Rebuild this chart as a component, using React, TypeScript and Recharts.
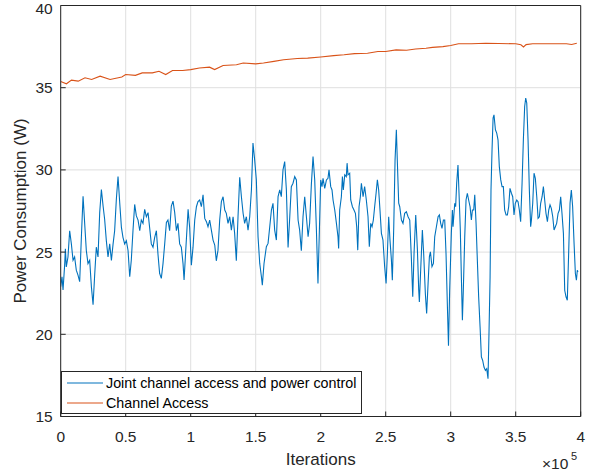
import { LineChart, Line, XAxis, YAxis, CartesianGrid, Legend } from "recharts"

// iterations are stored in thousands
const jointIter = [
  0, 1.0, 1.8, 3.1, 3.6, 4.3, 5.6, 6.9, 8.2, 9.5, 10.7, 12.0, 13.3, 14.6, 15.9, 17.2, 18.4, 19.7, 21.0, 22.3,
  23.6, 24.9, 26.2, 27.4, 28.7, 30.0, 31.3, 32.6, 33.8, 35.1, 36.4, 37.7, 39.0, 40.3, 41.5, 42.8, 44.1, 45.4, 46.7, 47.9,
  49.2, 50.5, 51.8, 53.1, 54.3, 55.6, 56.9, 58.2, 59.5, 60.8, 62.0, 63.3, 64.6, 65.9, 67.2, 68.4, 69.7, 71.0, 72.3, 73.6,
  74.8, 76.1, 77.4, 78.7, 80.0, 81.3, 82.5, 83.8, 85.1, 86.4, 87.7, 89.0, 90.2, 91.5, 92.8, 94.1, 94.9, 95.9, 97.2, 98.0,
  99.2, 100.5, 101.8, 103.1, 104.4, 105.6, 106.9, 108.2, 109.5, 110.8, 112.1, 113.3, 114.6, 115.9, 117.2, 118.5, 119.7, 121.0, 122.3, 123.6,
  124.9, 126.2, 127.4, 128.7, 130.0, 131.3, 132.6, 133.8, 135.1, 136.4, 137.7, 139.0, 140.3, 141.5, 142.8, 144.1, 145.4, 146.7, 147.9, 149.2,
  150.5, 151.8, 153.1, 154.4, 155.1, 156.4, 158.2, 159.5, 160.8, 162.1, 163.3, 164.6, 165.9, 167.2, 168.5, 169.7, 171.0, 172.3, 173.6, 174.9,
  176.2, 177.4, 178.7, 180.0, 181.3, 182.6, 183.8, 185.1, 186.4, 187.7, 189.0, 190.3, 191.5, 192.8, 194.1, 195.4, 196.7, 197.9, 199.2, 200.0,
  201.0, 201.8, 203.1, 204.4, 205.6, 206.4, 207.7, 208.7, 209.5, 210.8, 212.1, 213.3, 213.8, 214.6, 215.9, 216.7, 217.4, 218.5, 219.7, 220.3,
  221.0, 222.3, 223.1, 224.4, 225.6, 226.7, 227.7, 228.5, 229.5, 230.5, 231.3, 232.6, 233.8, 235.1, 236.4, 237.4, 238.5, 239.5, 240.5, 241.5,
  242.6, 243.6, 244.6, 245.6, 246.7, 247.9, 249.2, 250.3, 251.3, 252.3, 253.3, 254.4, 255.1, 256.2, 257.2, 258.2, 259.0, 260.0, 260.8, 262.1,
  263.3, 264.6, 265.9, 267.2, 268.5, 269.7, 270.8, 271.8, 273.1, 274.4, 275.4, 275.9, 276.9, 278.2, 279.2, 280.5, 281.5, 282.6, 283.6, 284.4,
  285.6, 286.7, 287.7, 289.0, 290.3, 291.3, 292.3, 293.3, 294.4, 295.4, 296.4, 297.4, 298.3, 299.2, 300.5, 301.3, 301.8, 303.1, 303.8, 304.6,
  305.6, 306.4, 307.4, 308.2, 309.0, 309.7, 310.8, 311.8, 312.8, 313.8, 314.9, 315.9, 316.7, 317.7, 318.5, 319.5, 320.5, 321.5, 322.6, 323.6,
  324.6, 325.6, 326.7, 327.7, 328.7, 329.5, 330.3, 331.0, 331.8, 332.6, 333.3, 334.4, 335.4, 336.4, 337.4, 338.5, 339.5, 340.5, 341.5, 342.6,
  343.6, 344.6, 345.6, 346.7, 347.7, 348.7, 349.7, 350.8, 351.8, 352.8, 353.8, 354.9, 355.9, 356.9, 357.7, 358.5, 359.5, 360.5, 361.5, 362.1,
  363.1, 364.1, 365.1, 366.2, 367.2, 368.2, 369.2, 370.3, 371.3, 372.3, 373.3, 374.4, 375.4, 376.4, 377.4, 378.5, 379.5, 380.5, 381.5, 382.6,
  383.6, 384.6, 385.6, 386.7, 387.7, 388.7, 389.7, 390.8, 391.8, 392.8, 393.8, 394.9, 395.9, 396.7, 397.4, 397.9,
]

const jointPower = [
  22.9, 23.5, 22.7, 24.3, 25.2, 24.1, 24.7, 26.3, 25.5, 24.5, 24.7, 23.9, 23.6, 23.2, 25.9, 28.4, 26.8, 25.1, 24.3, 24.5,
  22.9, 21.8, 23.7, 25.3, 24.7, 27.4, 28.8, 27.8, 27.0, 25.7, 24.7, 25.5, 24.5, 25.5, 26.3, 28.2, 29.6, 28.0, 26.5, 25.9,
  25.5, 25.7, 25.1, 23.5, 24.5, 26.3, 27.9, 27.2, 26.95, 26.3, 26.95, 26.75, 27.6, 27.15, 27.4, 26.5, 25.5, 25.3, 25.9, 26.3,
  24.9, 23.7, 23.4, 24.3, 25.5, 26.8, 26.95, 26.3, 27.8, 28.1, 27.4, 26.3, 26.75, 25.5, 25.3, 24.3, 23.3, 24.7, 26.5, 27.6,
  26.5, 24.2, 25.3, 26.95, 27.76, 28.07, 28.17, 27.76, 28.48, 27.05, 26.85, 26.54, 26.95, 26.34, 25.73, 25.43, 24.47, 25.12, 26.95, 28.07,
  28.37, 27.56, 27.36, 26.75, 27.15, 26.34, 27.15, 26.14, 24.47, 27.15, 29.55, 28.37, 27.36, 26.75, 27.15, 26.34, 27.15, 28.78, 31.63, 30.61,
  29.39, 25.93, 24.31, 23.5, 22.99, 24.31, 25.33, 25.53, 26.54, 27.56, 27.97, 26.34, 25.73, 28.37, 28.78, 28.37, 30.0, 30.51, 28.78, 25.28,
  27.15, 28.98, 29.19, 29.59, 29.39, 26.95, 26.34, 25.08, 27.15, 28.37, 27.15, 25.93, 26.75, 29.09, 30.81, 29.39, 26.34, 23.09, 26.95, 29.39,
  28.98, 29.49, 28.88, 29.39, 29.49, 30.0, 28.98, 28.78, 28.17, 27.56, 26.75, 25.93, 25.22, 27.56, 28.37, 29.59, 28.78, 29.7, 29.59, 30.41,
  29.7, 29.8, 28.17, 27.76, 27.56, 27.36, 26.54, 25.12, 27.76, 28.37, 29.19, 28.37, 28.98, 28.17, 27.15, 25.33, 26.75, 26.54, 26.95, 27.76,
  28.58, 29.39, 28.78, 27.56, 26.14, 25.73, 24.11, 23.09, 24.92, 27.15, 25.73, 24.51, 23.29, 26.54, 30.61, 32.44, 30.41, 27.97, 27.76, 26.95,
  26.75, 27.36, 27.46, 27.15, 26.95, 24.72, 22.28, 24.92, 27.26, 25.12, 22.68, 21.97, 23.9, 26.34, 24.92, 22.48, 21.26, 23.09, 24.72, 25.02,
  24.11, 24.31, 25.93, 26.54, 27.15, 27.26, 26.75, 26.44, 26.95, 26.95, 24.92, 21.87, 19.3, 22.68, 26.14, 27.56, 26.54, 27.97, 27.76, 29.19,
  30.3, 28.58, 26.34, 23.5, 20.85, 22.68, 25.93, 28.17, 28.58, 28.17, 27.76, 26.95, 27.56, 27.56, 28.48, 26.75, 24.51, 22.28, 20.45, 18.62,
  18.41, 18.01, 17.8, 17.91, 17.3, 20.24, 23.5, 28.78, 31.22, 33.15, 33.35, 32.44, 32.24, 31.83, 30.2, 29.39, 28.98, 28.98, 27.56, 27.26,
  27.26, 27.76, 28.88, 28.58, 28.37, 27.26, 27.97, 28.17, 28.07, 27.56, 26.85, 29.19, 31.83, 33.86, 34.37, 34.07, 31.83, 28.78, 26.54, 26.95,
  27.97, 29.8, 29.49, 28.37, 27.05, 27.15, 27.97, 28.37, 28.98, 28.17, 27.36, 26.85, 27.56, 27.87, 27.66, 27.15, 26.34, 26.54, 26.75, 27.36,
  27.56, 28.37, 27.36, 26.14, 22.68, 22.28, 22.07, 25.12, 27.97, 28.78, 27.76, 25.53, 23.7, 23.29, 23.9, 23.8,
]

const accessIter = [
  0, 4.4, 8.3, 13.5, 18.7, 23.8, 30.3, 38, 47, 50, 57.5, 62.7, 70.5, 75.6, 80.8, 86, 93.8, 100, 106.7, 114.5,
  118.4, 124.9, 135.2, 140.4, 150, 156, 164, 171.5, 182, 190, 200, 210, 218, 226, 236, 244, 250, 258, 266, 273,
  281, 286, 294, 300, 306, 316, 327, 337, 350, 354, 356, 358, 363, 376, 389, 393, 397,
]

const accessPower = [
  35.38, 35.24, 35.46, 35.4, 35.6, 35.5, 35.7, 35.5, 35.65, 35.8, 35.75, 35.9, 35.9, 36.0, 35.8, 36.05, 36.05, 36.1, 36.2, 36.25,
  36.1, 36.35, 36.4, 36.5, 36.45, 36.5, 36.6, 36.7, 36.78, 36.8, 36.87, 36.95, 37.0, 37.07, 37.1, 37.2, 37.2, 37.3, 37.28, 37.35,
  37.4, 37.45, 37.5, 37.57, 37.67, 37.67, 37.7, 37.69, 37.67, 37.61, 37.48, 37.62, 37.67, 37.67, 37.67, 37.63, 37.7,
]

const seriesNames = ["Joint channel access and power control", "Channel Access"]
const xTicks = [0, 50, 100, 150, 200, 250, 300, 350, 400]
const yTicks = [15, 20, 25, 30, 35, 40]

const joint = jointIter.map((k, i) => ({ k, p: jointPower[i] }))
const access = accessIter.map((k, i) => ({ k, p: accessPower[i] }))

const FONT = "'Liberation Sans', Arial, Helvetica, sans-serif"
const AXIS = "#262626"

function renderLegend({ payload }: any) {
  const items = [...(payload || [])].sort(
    (a: any, b: any) => seriesNames.indexOf(a.value) - seriesNames.indexOf(b.value)
  )
  return (
    <div
      style={{
        boxSizing: "border-box",
        width: 301,
        height: 43,
        border: `1px solid ${AXIS}`,
        background: "#fff",
        paddingTop: 1,
        fontFamily: FONT,
      }}
    >
      {items.map((entry: any) => (
        <div key={entry.value} style={{ display: "flex", alignItems: "center", height: 20 }}>
          <svg width={36} height={4} style={{ marginLeft: 4.5, marginRight: 3.5 }}>
            <line x1={0} y1={2} x2={36} y2={2} stroke={entry.color} strokeWidth={1.2} />
          </svg>
          <span style={{ fontSize: 14.3, color: "#000", whiteSpace: "nowrap" }}>{entry.value}</span>
        </div>
      ))}
    </div>
  )
}

// the top label sits a little lower so it stays inside the figure, as in MATLAB
function LeftTick({ x, y, payload }: any) {
  const shift = payload.value === 40 ? 3 : 0
  return (
    <text x={x} y={y + shift} dy="0.355em" textAnchor="end" fill={AXIS} fontSize={15.5} fontFamily={FONT}>
      {payload.value}
    </text>
  )
}

export default function App() {
  return (
    <div style={{ position: "absolute", left: 0, top: 0, width: 597, height: 474, background: "#fff", fontFamily: FONT }}>
      <LineChart width={597} height={474} margin={{ top: 0, right: 0, bottom: 0, left: 0 }}>
        <CartesianGrid xAxisId="bottom" yAxisId="left" stroke="#dfdfdf" strokeWidth={1} />
        <XAxis
          xAxisId="bottom"
          type="number"
          dataKey="k"
          domain={[0, 400]}
          ticks={xTicks}
          interval={0}
          allowDataOverflow
          height={57.5}
          tickSize={-5}
          tickMargin={19}
          stroke={AXIS}
          tick={{ fill: AXIS, fontSize: 15.5, fontFamily: FONT }}
          tickFormatter={(v: number) => String(v / 100)}
          label={() => (
            <g fontFamily={FONT} fill={AXIS}>
              <text x={320.7} y={465} textAnchor="middle" fontSize={17}>
                Iterations
              </text>
              <text x={542} y={469} fontSize={15.5}>
                ×10
              </text>
              <text x={571} y={460} fontSize={11}>
                5
              </text>
            </g>
          )}
        />
        <XAxis
          xAxisId="top"
          orientation="top"
          type="number"
          dataKey="k"
          domain={[0, 400]}
          ticks={xTicks}
          interval={0}
          height={5.5}
          tickSize={-5}
          stroke={AXIS}
          tickFormatter={() => ""}
        />
        <YAxis
          yAxisId="left"
          type="number"
          domain={[15, 40]}
          ticks={yTicks}
          interval={0}
          allowDataOverflow
          width={60.7}
          tickSize={-5}
          tickMargin={13}
          stroke={AXIS}
          tick={<LeftTick />}
          label={() => (
            <text
              x={26}
              y={211}
              transform="rotate(-90 26 211)"
              textAnchor="middle"
              fontSize={17}
              fontFamily={FONT}
              fill={AXIS}
            >
              Power Consumption (W)
            </text>
          )}
        />
        <YAxis
          yAxisId="right"
          orientation="right"
          type="number"
          domain={[15, 40]}
          ticks={yTicks}
          interval={0}
          width={16.3}
          tickSize={-5}
          stroke={AXIS}
          tickFormatter={() => ""}
        />
        <Line
          xAxisId="bottom"
          yAxisId="left"
          data={joint}
          dataKey="p"
          name={seriesNames[0]}
          stroke="#0072BD"
          strokeWidth={1.1}
          dot={false}
          isAnimationActive={false}
        />
        <Line
          xAxisId="bottom"
          yAxisId="left"
          data={access}
          dataKey="p"
          name={seriesNames[1]}
          stroke="#D95319"
          strokeWidth={1.1}
          dot={false}
          isAnimationActive={false}
        />
        <Legend
          layout="vertical"
          align="center"
          verticalAlign="middle"
          wrapperStyle={{ left: 61, top: 371, width: 301, height: 43 }}
          content={renderLegend}
        />
      </LineChart>
    </div>
  )
}
